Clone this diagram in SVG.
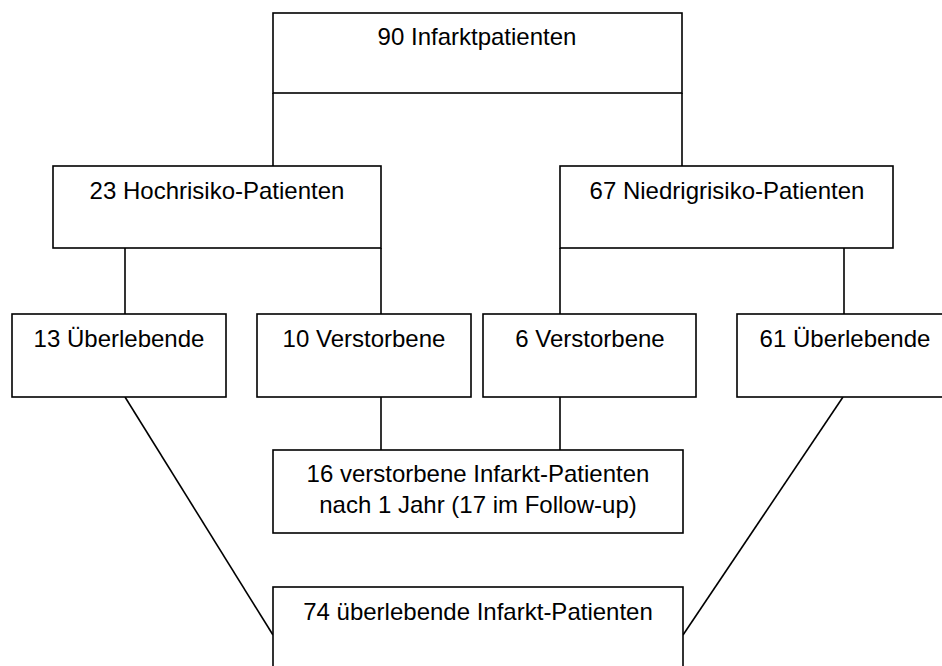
<svg xmlns="http://www.w3.org/2000/svg" width="942" height="666" viewBox="0 0 942 666">
<style>
.box{fill:#fff;stroke:#000;stroke-width:1.6}
.ln{fill:none;stroke:#000;stroke-width:1.6}
text{font-family:"Liberation Sans",Arial,sans-serif;font-size:24px;fill:#000;text-anchor:middle}
</style>
<rect width="942" height="666" fill="#fff"/>
<g id="connectors">
<line class="ln" x1="273" y1="93" x2="273" y2="166"/>
<line class="ln" x1="682" y1="93" x2="682" y2="166"/>
<line class="ln" x1="125" y1="248" x2="125" y2="314"/>
<line class="ln" x1="381" y1="248" x2="381" y2="314"/>
<line class="ln" x1="560" y1="248" x2="560" y2="314"/>
<line class="ln" x1="844" y1="248" x2="844" y2="314"/>
<line class="ln" x1="381" y1="397" x2="381" y2="450"/>
<line class="ln" x1="560" y1="397" x2="560" y2="450"/>
<line class="ln" x1="125" y1="397" x2="273" y2="635"/>
<line class="ln" x1="843" y1="397" x2="683" y2="635"/>
</g>
<g id="n90">
<rect class="box" x="273" y="13" width="409" height="80"/>
<text x="477" y="45">90 Infarktpatienten</text>
</g>
<g id="n23">
<rect class="box" x="53" y="166" width="328" height="82"/>
<text x="217" y="199">23 Hochrisiko-Patienten</text>
</g>
<g id="n67">
<rect class="box" x="560" y="166" width="333" height="82"/>
<text x="727" y="199">67 Niedrigrisiko-Patienten</text>
</g>
<g id="n13">
<rect class="box" x="12" y="314" width="214" height="83"/>
<text x="119" y="347">13 Überlebende</text>
</g>
<g id="n10">
<rect class="box" x="257" y="314" width="214" height="83"/>
<text x="364" y="347">10 Verstorbene</text>
</g>
<g id="n6">
<rect class="box" x="483" y="314" width="213" height="83"/>
<text x="590" y="347">6 Verstorbene</text>
</g>
<g id="n61">
<rect class="box" x="737" y="314" width="216" height="83"/>
<text x="845" y="347">61 Überlebende</text>
</g>
<g id="n16">
<rect class="box" x="273" y="450" width="410" height="83"/>
<text x="478" y="482">16 verstorbene Infarkt-Patienten</text>
<text x="478" y="513">nach 1 Jahr (17 im Follow-up)</text>
</g>
<g id="n74">
<rect class="box" x="273" y="587" width="410" height="90"/>
<text x="478" y="620">74 überlebende Infarkt-Patienten</text>
</g>
</svg>
